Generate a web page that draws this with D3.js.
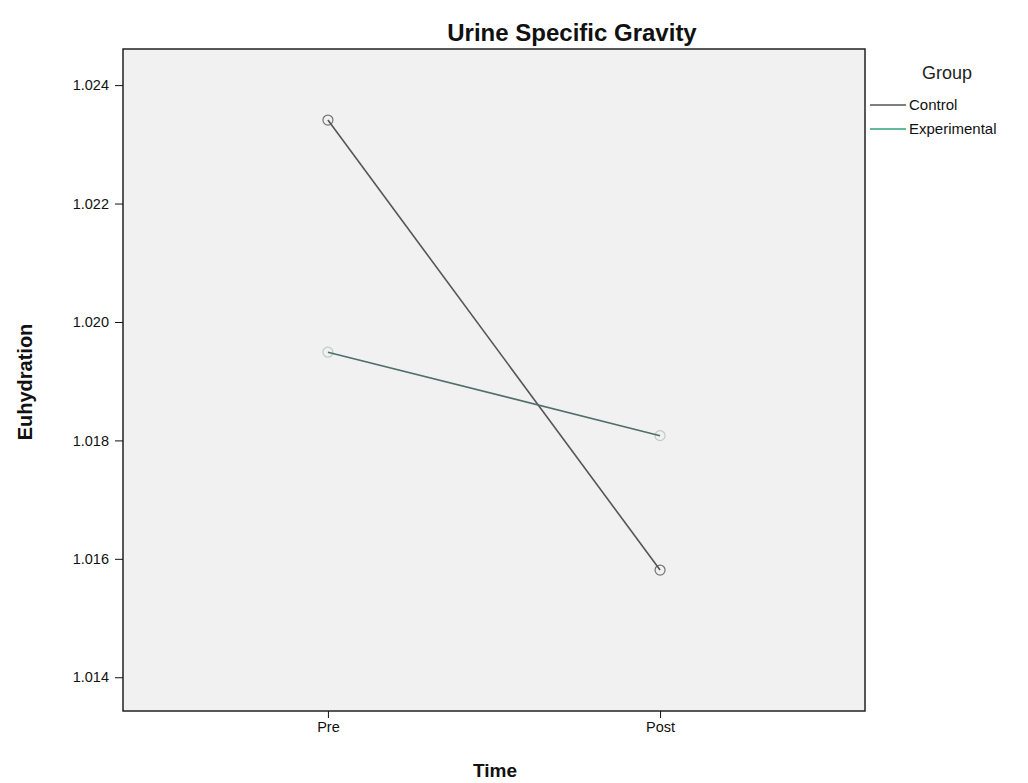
<!DOCTYPE html>
<html><head><meta charset="utf-8">
<script src="https://cdn.jsdelivr.net/npm/d3@7"></script>
<style>body{margin:0;background:#fff;} text{font-family:Arial,"Liberation Sans",sans-serif;}</style>
</head><body>
<svg id="c" width="1028" height="783"></svg>
<script>
const times = ["Pre", "Post"];
const groups = ["Control", "Experimental"];
const controlValues = [1.02341, 1.01581];
const experimentalValues = [1.01949, 1.01808];
const yTicks = [1.014, 1.016, 1.018, 1.020, 1.022, 1.024];
const colors = {Control: "#555555", Experimental: "#4f6f68"};
const legendColors = {Control: "#555555", Experimental: "#2fa07e"};

const svg = d3.select("#c");
const L = 123, R = 865, T = 49, B = 711;
const x = d3.scalePoint().domain(times).range([L, R]).padding(0.617);
const y = d3.scaleLinear().domain([1.01343, 1.02461]).range([B, T]);

svg.append("rect").attr("x", L).attr("y", T).attr("width", R - L).attr("height", B - T)
  .attr("fill", "#f1f1f1").attr("stroke", "#222").attr("stroke-width", 1.5);

const yAxis = svg.append("g").attr("transform", `translate(${L},0)`)
  .call(d3.axisLeft(y).tickValues(yTicks).tickFormat(d3.format(".3f")).tickSize(8).tickPadding(6));
yAxis.select(".domain").remove();
yAxis.selectAll("text").attr("font-size", 14.5).attr("fill", "#111");
yAxis.selectAll("line").attr("stroke", "#111");

const xAxis = svg.append("g").attr("transform", `translate(0,${B})`)
  .call(d3.axisBottom(x).tickSize(7).tickPadding(4));
xAxis.select(".domain").remove();
xAxis.selectAll("text").attr("font-size", 14.5).attr("fill", "#111");
xAxis.selectAll("line").attr("stroke", "#111");

const series = [
  {name: "Control", values: controlValues},
  {name: "Experimental", values: experimentalValues}
];
const line = d3.line().x((d, i) => x(times[i])).y(d => y(d));
series.forEach(s => {
  svg.append("path").datum(s.values).attr("d", line).attr("fill", "none")
    .attr("stroke", colors[s.name]).attr("stroke-width", 1.6);
  svg.selectAll(null).data(s.values).enter().append("circle")
    .attr("cx", (d, i) => x(times[i])).attr("cy", d => y(d)).attr("r", 5)
    .attr("fill", "none").attr("stroke", colors[s.name])
    .attr("stroke-opacity", s.name === "Control" ? 0.8 : 0.3).attr("stroke-width", 1.2);
});

svg.append("text").attr("x", 572).attr("y", 41).attr("text-anchor", "middle")
  .attr("font-size", 24).attr("font-weight", "bold").attr("fill", "#111").text("Urine Specific Gravity");
svg.append("text").attr("x", 495).attr("y", 777).attr("text-anchor", "middle")
  .attr("font-size", 19).attr("font-weight", "bold").attr("fill", "#111").text("Time");
svg.append("text").attr("transform", "translate(32,382) rotate(-90)").attr("text-anchor", "middle")
  .attr("font-size", 20).attr("font-weight", "bold").attr("fill", "#111").text("Euhydration");

svg.append("text").attr("x", 947).attr("y", 79).attr("text-anchor", "middle")
  .attr("font-size", 18).attr("fill", "#222").text("Group");
groups.forEach((g, i) => {
  const yy = 105 + i * 24;
  svg.append("line").attr("x1", 870).attr("x2", 906).attr("y1", yy).attr("y2", yy)
    .attr("stroke", legendColors[g]).attr("stroke-width", 1.5);
  svg.append("text").attr("x", 909).attr("y", yy + 5).attr("font-size", 15).attr("fill", "#111").text(g);
});
</script>
</body></html>
